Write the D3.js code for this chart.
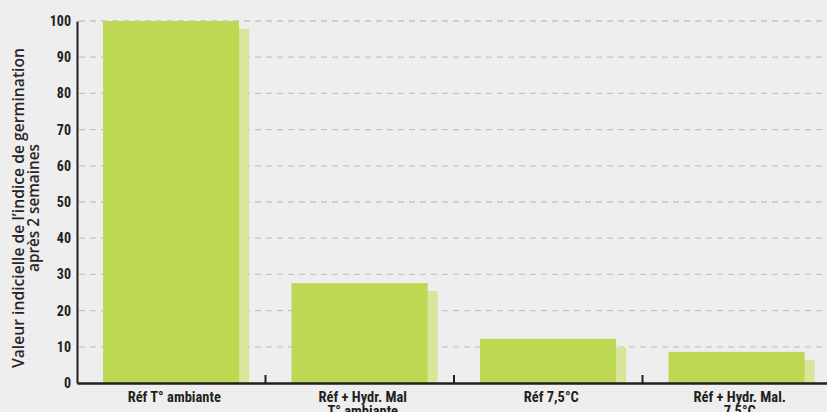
<!DOCTYPE html>
<html><head><meta charset="utf-8">
<script src="https://cdn.jsdelivr.net/npm/d3@7"></script>
<style>
html,body{margin:0;padding:0;background:#eeeeee;}
svg{display:block;}
</style></head>
<body>
<svg id="c" width="827" height="412"></svg>
<script>
const categories = [["Réf T° ambiante"], ["Réf + Hydr. Mal", "T° ambiante"], ["Réf 7,5°C"], ["Réf + Hydr. Mal.", "7,5°C"]];
const mainValues = [100, 27.6, 12.2, 8.6];
const backValues = [97.8, 25.4, 9.9, 6.4];
const yTicks = [0, 10, 20, 30, 40, 50, 60, 70, 80, 90, 100];
const yTitle = ["Valeur indicielle de l\u2019indice de germination", "après 2 semaines"];

(function(){
const svg = d3.select("#c");
const mL = 77, mR = 831, mT = 21, mB = 383;
const font = "'Liberation Sans Narrow','Roboto Condensed','Roboto',sans-serif";
const ink = "#231f20";

const x = d3.scaleBand().domain(d3.range(categories.length)).range([mL, mR]).padding(0);
const y = d3.scaleLinear().domain([0, 100]).range([mB, mT]);
const bw = x.bandwidth();

// grid
svg.append("g").selectAll("line").data(yTicks.filter(d => d > 0)).join("line")
  .attr("x1", mL + 2).attr("x2", 827)
  .attr("y1", d => y(d)).attr("y2", d => y(d))
  .attr("stroke", "#c4c4c4").attr("stroke-width", 1.3).attr("stroke-dasharray", "6,5");

// back bars
svg.append("g").selectAll("rect").data(backValues).join("rect")
  .attr("x", (d, i) => x(i) + bw * 0.138 + 10)
  .attr("width", bw * 0.722)
  .attr("y", d => y(d)).attr("height", d => mB - y(d))
  .attr("fill", "#d8e59b");

// main bars
svg.append("g").selectAll("rect").data(mainValues).join("rect")
  .attr("x", (d, i) => x(i) + bw * 0.138)
  .attr("width", bw * 0.722)
  .attr("y", d => y(d)).attr("height", d => mB - y(d))
  .attr("fill", "#bdd853");

// y axis
const yAxis = d3.axisLeft(y).tickValues(yTicks).tickSize(0).tickPadding(6);
const gy = svg.append("g").attr("transform", `translate(${mL},0)`).call(yAxis);
gy.select(".domain").attr("stroke", ink).attr("stroke-width", 2);
gy.selectAll("text").attr("font-family", font).attr("font-weight", "bold")
  .attr("font-size", 14).attr("fill", ink);

// x axis
const xAxis = d3.axisBottom(x).tickSize(0).tickFormat(() => "");
const gx = svg.append("g").attr("transform", `translate(0,${mB})`).call(xAxis);
gx.select(".domain").attr("stroke", ink).attr("stroke-width", 2.5);
// separator ticks
svg.append("g").selectAll("line").data(d3.range(1, categories.length)).join("line")
  .attr("x1", d => x(d)).attr("x2", d => x(d))
  .attr("y1", mB - 8).attr("y2", mB)
  .attr("stroke", ink).attr("stroke-width", 2);

// x labels
const lab = svg.append("g").selectAll("text").data(categories).join("text")
  .attr("transform", (d, i) => `translate(${x(i) + bw / 2 + 3},402)`)
  .attr("text-anchor", "middle").attr("font-family", font).attr("font-weight", "bold")
  .attr("font-size", 14.5).attr("fill", ink);
lab.selectAll("tspan").data(d => d).join("tspan")
  .attr("x", 0).attr("dy", (d, i) => i === 0 ? 0 : 14).text(d => d);

// y title
const t = svg.append("text").attr("transform", "translate(0,208) rotate(-90)")
  .attr("text-anchor", "middle").attr("font-family", "'Open Sans',sans-serif")
  .attr("font-weight", 600).attr("font-size", 15.5).attr("fill", "#2a2627");
t.selectAll("tspan").data(yTitle).join("tspan")
  .attr("x", 0).attr("y", (d, i) => 24 + i * 15)
  .attr("textLength", (d, i) => i === 0 ? 320 : 128)
  .attr("lengthAdjust", "spacingAndGlyphs")
  .text(d => d);
})();
</script>
</body></html>
